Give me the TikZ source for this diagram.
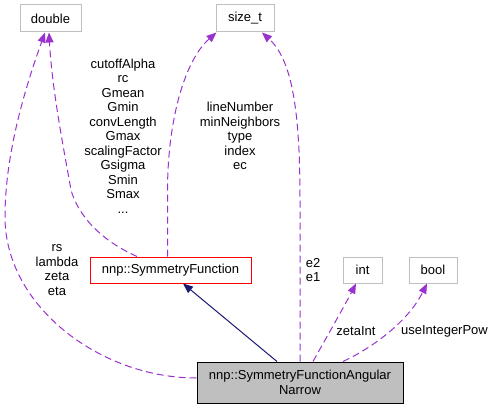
\documentclass[tikz,border=0pt]{standalone}
\usepackage{fontspec}
\setmainfont{Liberation Sans}
\usetikzlibrary{arrows.meta}
\definecolor{edgepurple}{HTML}{9A32CD}
\definecolor{boxgray}{HTML}{BFBFBF}
\definecolor{navyedge}{HTML}{191970}
\begin{document}
\begin{tikzpicture}[x=1pt,y=-1pt,
  font=\fontsize{13}{14.5}\selectfont,
  typebox/.style={draw=boxgray,line width=1pt,inner sep=0pt,fill=white},
  usedge/.style={draw=edgepurple,line width=1pt,dash pattern=on 7pt off 4pt,
    -{Triangle[length=10pt,width=8pt,fill=edgepurple,sharp]}},
  inhedge/.style={draw=navyedge,line width=1pt,
    -{Triangle[length=10pt,width=8pt,fill=navyedge,sharp]}},
  lbl/.style={align=center,inner sep=0pt}]
\useasboundingbox (0,0) rectangle (495,409);

\node[typebox,minimum width=61pt,minimum height=27pt] (dbl) at (50.5,18.5) {double};
\node[typebox,minimum width=58pt,minimum height=27pt] (sizet) at (245,18.5) {size\_t};
\node[typebox,draw=red,minimum width=161pt,minimum height=26pt] (sf) at (170.5,270) {nnp::SymmetryFunction};
\node[typebox,minimum width=39pt,minimum height=26pt] (int) at (362.5,270) {int};
\node[typebox,minimum width=48pt,minimum height=26pt] (bool) at (433,270) {bool};
\node[draw=black,fill=boxgray,line width=1pt,inner sep=0pt,minimum width=206pt,minimum height=41pt,align=center] (main) at (300,382.5) {nnp::SymmetryFunctionAngular\\Narrow};

% inheritance
\draw[inhedge] ([xshift=-23pt]main.north) -- ([xshift=12.5pt]sf.south);

% SymmetryFunction -> double
\draw[usedge] ([xshift=-33.5pt]sf.north) .. controls (100,240) and (78,215) .. (71,190)
  .. controls (64,150) and (52,90) .. ([xshift=-1.5pt]dbl.south);
% main -> double
\draw[usedge] ([yshift=4.5pt]main.west) .. controls (100,378) and (5,306) .. (5,217)
  .. controls (5,150) and (28,80) .. ([xshift=-5.5pt]dbl.south);
% SymmetryFunction -> size_t
\draw[usedge] ([xshift=-3pt]sf.north) -- (167.5,195) .. controls (167,120) and (185,60) .. ([xshift=1pt]sizet.south west);
% main -> size_t
\draw[usedge] (main.north) -- (300,200) .. controls (300,110) and (292,60) .. ([xshift=17pt]sizet.south);
% main -> int
\draw[usedge] ([xshift=13pt]main.north) .. controls (325,340) and (345,305) .. ([xshift=-6.5pt]int.south);
% main -> bool
\draw[usedge] ([xshift=43pt]main.north) .. controls (378,345) and (410,318) .. ([xshift=-6pt]bool.south);

% labels
\node[lbl] (l1) at (123,136) {cutoffAlpha\\rc\\Gmean\\Gmin\\convLength\\Gmax\\scalingFactor\\Gsigma\\Smin\\Smax\\...};
\node[lbl] (l2) at (240,136) {lineNumber\\minNeighbors\\type\\index\\ec};
\node[lbl] (l3) at (57,270) {rs\\lambda\\zeta\\eta};
\node[lbl] (l4) at (313,270) {e2\\e1};
\node[lbl] (l5) at (356,331) {zetaInt};
\node[lbl] (l6) at (444.5,331) {useIntegerPow};
\end{tikzpicture}
\end{document}
